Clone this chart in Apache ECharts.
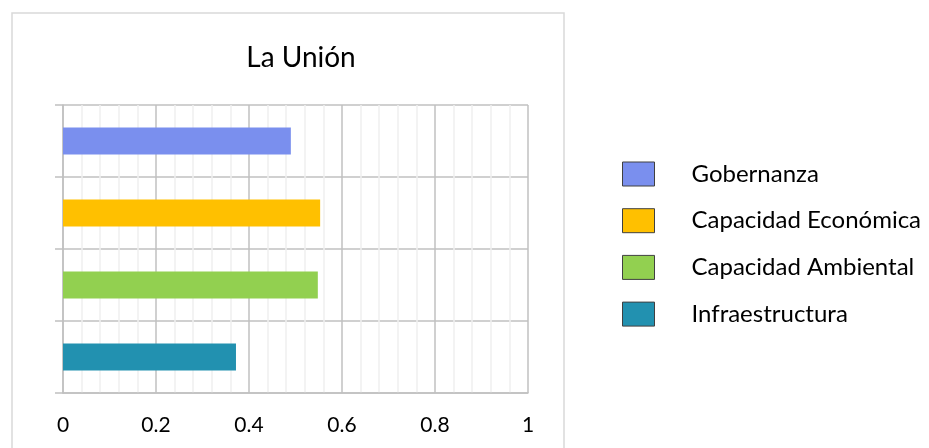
<!DOCTYPE html>
<html>
<head>
<meta charset="utf-8">
<script src="https://cdn.jsdelivr.net/npm/echarts@6/dist/echarts.min.js"></script>
<style>html,body{margin:0;padding:0;background:#fff;}#c{width:929px;height:448px;}</style>
</head>
<body>
<div id="c"></div>
<script>
const categories = ['Infraestructura', 'Capacidad Ambiental', 'Capacidad Económica', 'Gobernanza'];
const seriesNames = ['Gobernanza', 'Capacidad Económica', 'Capacidad Ambiental', 'Infraestructura'];
const seriesValues = [0.49, 0.553, 0.548, 0.372];
const seriesColors = ['#7a8fee', '#ffc000', '#92d050', '#2291b0'];
const xTicks = [0, 0.2, 0.4, 0.6, 0.8, 1];

const chart = echarts.init(document.getElementById('c'), null, {renderer: 'canvas'});
const FONT = 'Lato, Carlito, "Open Sans", sans-serif';
const gridColor = '#c0c0c0';

const series = seriesNames.map((name, i) => {
  const data = categories.map(c => c === name ? seriesValues[i] : '-');
  return {
    name: name,
    type: 'bar',
    data: data,
    barWidth: 27,
    barGap: '-100%',
    itemStyle: {color: seriesColors[i]},
    z: 3
  };
});

chart.setOption({
  animation: false,
  backgroundColor: '#fff',
  title: {
    text: 'La Unión',
    left: 296, top: 39,
    textAlign: 'center',
    textStyle: {fontFamily: FONT, fontSize: 28, fontWeight: 'normal', color: '#000'}
  },
  graphic: [{
    type: 'rect',
    shape: {x: 12, y: 13, width: 552, height: 460},
    style: {fill: 'none', stroke: '#d9d9d9', lineWidth: 1.5},
    z: 0
  }],
  legend: {
    orient: 'vertical',
    left: 617, top: 155.5,
    itemWidth: 32, itemHeight: 24, itemGap: 19.7,
    icon: 'rect',
    itemStyle: {borderColor: '#404040', borderWidth: 1},
    textStyle: {fontFamily: FONT, fontSize: 24, lineHeight: 24, color: '#000', padding: [3, 0, 0, 32]},
    data: seriesNames
  },
  grid: {left: 63, right: 401, top: 105, bottom: 55, containLabel: false},
  xAxis: {
    type: 'value', min: 0, max: 1, interval: 0.2,
    axisLine: {show: true, lineStyle: {color: gridColor, width: 1.5}},
    axisTick: {show: false},
    axisLabel: {
      margin: 22, fontFamily: FONT, fontSize: 21, color: '#000',
      formatter: v => { const t = xTicks.find(x => Math.abs(x - v) < 1e-9); return t === undefined ? '' : String(t); }
    },
    splitLine: {show: true, lineStyle: {color: gridColor, width: 1.5}},
    minorTick: {show: false, splitNumber: 5},
    minorSplitLine: {show: true, lineStyle: {color: '#efefef', width: 1.5}}
  },
  yAxis: {
    type: 'category',
    data: categories,
    axisLine: {show: true, lineStyle: {color: gridColor, width: 1.5}},
    axisTick: {show: true, length: 8, lineStyle: {color: gridColor, width: 1.5}},
    axisLabel: {show: false},
    splitLine: {show: true, lineStyle: {color: gridColor, width: 1.5}}
  },
  series: series
});
</script>
</body>
</html>
